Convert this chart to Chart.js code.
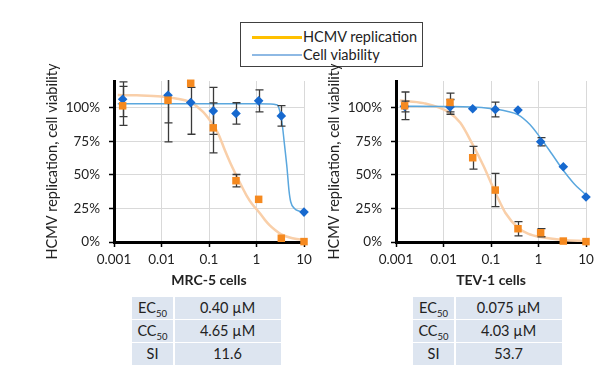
<!DOCTYPE html>
<html>
<head>
<meta charset="utf-8">
<script src="https://cdn.jsdelivr.net/npm/chart.js@4.4.1/dist/chart.umd.min.js"></script>
<style>
  body { margin: 0; width: 601px; height: 371px; background: #fff; position: relative; overflow: hidden; font-family: Lato, sans-serif; color: #222; }
  canvas { position: absolute; top: 60px; }
  #legend { position: absolute; left: 240px; top: 22px; width: 181px; height: 43px; border: 1px solid #404040; }
  .item { position: absolute; left: 11px; height: 18px; font-size: 14.5px; line-height: 18px; display: flex; align-items: center; white-space: nowrap; }
  .swatch { display: inline-block; width: 50px; margin-right: 1px; }
  .stats { position: absolute; top: 297px; display: grid; grid-template-columns: 41px 106px; gap: 1.5px; }
  .stats div { background: #dde5f0; height: 21.6px; line-height: 21.6px; text-align: center; font-size: 14.5px; }
  .stats sub { font-size: 9.5px; line-height: 0; vertical-align: -4px; }
</style>
</head>
<body>
<div id="legend"></div>
<canvas id="mrc" width="320" height="235" style="left:0px"></canvas>
<canvas id="tev" width="320" height="235" style="left:282px"></canvas>
<script>
// --- Data ---
const seriesNames = ['HCMV replication', 'Cell viability'];
const cellLines = ['MRC-5 cells', 'TEV-1 cells'];
const yAxisTitle = 'HCMV replication, cell viability';
const xTickValues = [0.001, 0.01, 0.1, 1, 10];
const xTickLabels = ['0.001', '0.01', '0.1', '1', '10'];
const yTickValues = [0, 25, 50, 75, 100];

const concentrations = [0.00152, 0.0137, 0.0412, 0.123, 0.37, 1.11, 3.33, 10];

// MRC-5 measured points (%)
const mrcReplication = [101.5, 105.7, 118.3, 85.1, 45.7, 31.8, 2.8, 0.3];
const mrcReplicationErr = [14.5, 31, 3, 18.6, 4.6, 0, 0, 0];
const mrcViability = [106.4, 109.4, 103.9, 97.7, 95.8, 105.2, 94.0, 22.3];
const mrcViabilityErr = [13, 20.6, 23.6, 17.5, 8, 8.2, 7.7, 0];

// MRC-5 fitted curves
const mrcReplicationFitX = [0.0012, 0.003, 0.01, 0.02, 0.041, 0.075, 0.123, 0.16, 0.215, 0.28, 0.37, 0.48, 0.61, 0.8, 1.11, 1.5, 1.88, 2.5, 3.33, 5, 7, 10];
const mrcReplicationFitY = [109.5, 109.3, 108.5, 107, 104, 97, 87, 80, 68.5, 59, 50, 42, 35, 28.5, 22.6, 16.5, 12.6, 8.8, 5.7, 3.3, 2.2, 1.5];
const mrcViabilityFitX = [0.0012, 0.1, 1, 2, 2.6, 2.85, 3.06, 3.3, 3.5, 3.9, 4.4, 4.82, 5.25, 6.3, 8, 10];
const mrcViabilityFitY = [103, 103, 103, 102.9, 102.3, 101.5, 98.2, 93, 87, 72, 54.8, 38.7, 30, 25, 23, 22];

// TEV-1 measured points (%)
const tevReplication = [101.5, 104.0, 62.8, 38.7, 9.9, 6.9, 0.7, 0.3];
const tevReplicationErr = [10.3, 7, 8.5, 12.4, 5.3, 3, 0, 0];
const tevViability = [101, 100.7, 99.3, 98.8, 98.3, 74.7, 56.1, 33.5];
const tevViabilityErr = [4, 5.5, 0, 5.5, 0, 3.1, 0, 0];

// TEV-1 fitted curves
const tevReplicationFitX = [0.0012, 0.0038, 0.0128, 0.0226, 0.041, 0.0697, 0.119, 0.156, 0.2, 0.37, 0.6, 1.11, 3.33, 10];
const tevReplicationFitY = [105.5, 103.5, 96.8, 88.8, 72.7, 56.6, 38, 29.3, 21.8, 10.6, 6.3, 3.7, 1.5, 0.7];
const tevViabilityFitX = [0.0012, 0.01, 0.04, 0.096, 0.216, 0.366, 0.66, 1.07, 1.9, 3.23, 5.38, 10];
const tevViabilityFitY = [101.2, 101, 100.6, 99.5, 97.5, 95, 87.6, 78.2, 65.8, 54, 44.2, 35];

// Table contents
const statLabels = [['EC', '50'], ['CC', '50'], ['SI', '']];
const mrcStats = ['0.40 µM', '4.65 µM', '11.6'];
const tevStats = ['0.075 µM', '4.03 µM', '53.7'];

const FONT = 'Lato';
const TEXT = '#222';
const toPoints = (xs, ys) => xs.map((x, i) => ({ x, y: ys[i] }));

// draws the error bars after the curves, before the markers
const errorBarPlugin = {
    id: 'errorBars',
    afterDatasetDraw(chart, args) {
        if (args.index !== 1) return;
        const { ctx, chartArea: area, scales: { x, y } } = chart;
        ctx.save();
        ctx.beginPath();
        ctx.rect(area.left, area.top - 1, area.width, area.height + 1);
        ctx.clip();
        ctx.strokeStyle = '#3a3a3a';
        ctx.lineWidth = 1.3;
        chart.data.datasets.forEach(ds => {
            if (!ds.errors) return;
            ds.data.forEach((p, i) => {
                const err = ds.errors[i];
                if (!err) return;
                const px = Math.round(x.getPixelForValue(p.x)) + 0.5;
                const top = y.getPixelForValue(p.y + err);
                const bottom = y.getPixelForValue(p.y - err);
                ctx.beginPath();
                ctx.moveTo(px, top); ctx.lineTo(px, bottom);
                ctx.moveTo(px - 4, top); ctx.lineTo(px + 4, top);
                ctx.moveTo(px - 4, bottom); ctx.lineTo(px + 4, bottom);
                ctx.stroke();
            });
        });
        ctx.restore();
    }
};

function drawPanel(canvasId, cellLine, repl, replErr, viab, viabErr, replFit, viabFit) {
    const ctx = document.getElementById(canvasId).getContext('2d');
    return new Chart(ctx, {
        type: 'line',
        data: {
            datasets: [
                { label: seriesNames[0], data: replFit, borderColor: '#f9cfa9', borderWidth: 2.5, pointRadius: 0, cubicInterpolationMode: 'monotone', order: 4 },
                { label: seriesNames[1], data: viabFit, borderColor: '#5aa7de', borderWidth: 1.5, pointRadius: 0, cubicInterpolationMode: 'monotone', order: 3 },
                { data: toPoints(concentrations, repl), errors: replErr, showLine: false, pointStyle: 'rect', pointRadius: 5.3, pointBackgroundColor: '#f5891f', pointBorderWidth: 0, order: 1, clip: false },
                { data: toPoints(concentrations, viab), errors: viabErr, showLine: false, pointStyle: 'rectRot', pointRadius: 4.8, pointBackgroundColor: '#1769cf', pointBorderWidth: 0, order: 2, clip: false }
            ]
        },
        options: {
            responsive: false,
            animation: false,
            devicePixelRatio: 1,
            layout: { padding: { left: 40, top: 21, right: 16, bottom: 0 } },
            plugins: { legend: { display: false }, tooltip: { enabled: false } },
            scales: {
                x: {
                    type: 'logarithmic', min: 0.001, max: 10,
                    afterBuildTicks: s => { s.ticks = xTickValues.map(v => ({ value: v })); },
                    afterFit: s => { s.height = 53; },
                    ticks: { callback: (v, i) => xTickLabels[i], font: { family: FONT, size: 13.5 }, color: TEXT, padding: 5, maxRotation: 0, autoSkip: false },
                    grid: { color: '#d9d9d9', tickColor: '#000', tickLength: 5, tickWidth: 1.5 },
                    border: { color: '#000', width: 3 },
                    title: { display: true, text: cellLine, font: { family: FONT, size: 14, weight: 'bold' }, color: TEXT, padding: { top: 0, bottom: 6 } }
                },
                y: {
                    min: 0, max: 120,
                    afterBuildTicks: s => { s.ticks = yTickValues.map(v => ({ value: v })); },
                    afterFit: s => { s.width = 74; },
                    ticks: { callback: v => v + '%', font: { family: FONT, size: 13.5 }, color: TEXT, padding: 9 },
                    grid: { color: '#d9d9d9', tickColor: '#000', tickLength: 5, tickWidth: 1.5 },
                    border: { color: '#000', width: 3 },
                    title: { display: true, text: yAxisTitle, font: { family: FONT, size: 14.5 }, color: TEXT, padding: { top: 4, bottom: 0 } }
                }
            }
        },
        plugins: [errorBarPlugin]
    });
}

drawPanel('mrc', cellLines[0], mrcReplication, mrcReplicationErr, mrcViability, mrcViabilityErr,
    toPoints(mrcReplicationFitX, mrcReplicationFitY), toPoints(mrcViabilityFitX, mrcViabilityFitY));
drawPanel('tev', cellLines[1], tevReplication, tevReplicationErr, tevViability, tevViabilityErr,
    toPoints(tevReplicationFitX, tevReplicationFitY), toPoints(tevViabilityFitX, tevViabilityFitY));

// --- Legend ---
const legend = document.getElementById('legend');
const legendColors = ['#ffc000', '#8eb9e4'];
const legendThickness = [3, 2];
seriesNames.forEach((name, i) => {
    const item = document.createElement('div');
    item.className = 'item';
    item.style.top = (5 + i * 18) + 'px';
    item.innerHTML = `<span class="swatch" style="height:${legendThickness[i]}px;background:${legendColors[i]}"></span>${name}`;
    legend.appendChild(item);
});

// --- Stats tables ---
function buildTable(left, values) {
    const table = document.createElement('div');
    table.className = 'stats';
    table.style.left = left + 'px';
    statLabels.forEach(([main, sub], i) => {
        const label = document.createElement('div');
        label.innerHTML = sub ? `${main}<sub>${sub}</sub>` : main;
        const value = document.createElement('div');
        value.textContent = values[i];
        table.appendChild(label);
        table.appendChild(value);
    });
    document.body.appendChild(table);
}
buildTable(132, mrcStats);
buildTable(413, tevStats);
</script>
</body>
</html>
